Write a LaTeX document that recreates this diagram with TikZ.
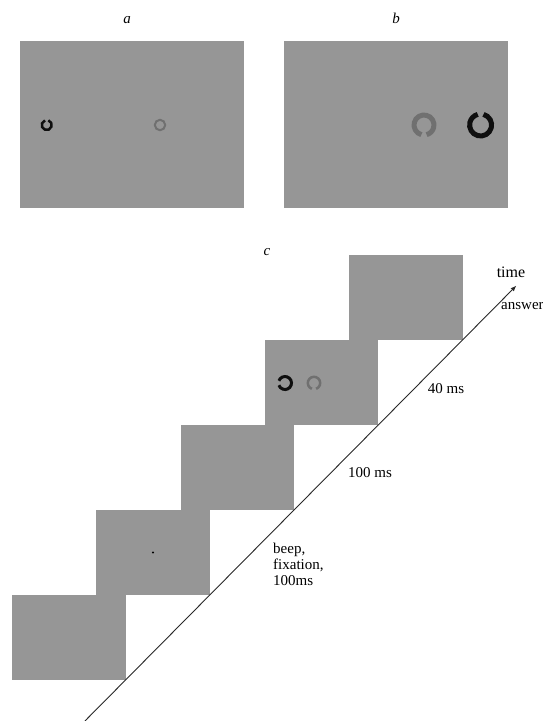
\documentclass[tikz,border=0pt]{standalone}
\usepackage{fontspec}
\setmainfont{Liberation Serif}
\usetikzlibrary{arrows.meta}
\definecolor{scrgray}{RGB}{150,150,150}
\definecolor{ringgray}{RGB}{112,112,112}
\definecolor{ringblack}{RGB}{15,15,15}
\definecolor{axisgray}{RGB}{40,40,40}
\tikzset{
  panel/.style={fill=scrgray, draw=none, inner sep=0pt, outer sep=0pt, minimum width=224pt, minimum height=167pt},
  scr/.style={fill=scrgray, draw=none, inner sep=0pt, outer sep=0pt, minimum width=113.5pt, minimum height=85pt},
  lbl/.style={inner sep=0pt, font=\fontsize{15}{17}\selectfont\itshape},
  txt/.style={inner sep=0pt, font=\fontsize{15}{16}\selectfont},
  axisline/.style={draw=axisgray, line width=0.9pt},
}
\begin{document}
\begin{tikzpicture}[x=1pt, y=-1pt]
\useasboundingbox (0,0) rectangle (543,721);
% panels a and b (y axis points down: 270 = up, 90 = down)
\node[panel] (pa) at (132,124.5) {};
\node[panel] (pb) at (396,124.5) {};
\node[lbl, anchor=base] (la) at (127,23) {a};
\node[lbl, anchor=base] (lb) at (396,23) {b};
% rings in a
\draw[ringblack, line width=2.5pt] (46.7,125) ++(-70:5) arc[start angle=-70, end angle=250, radius=5];
\draw[ringgray, line width=2pt] (160,125) circle[radius=5.2];
% rings in b
\draw[ringgray, line width=5pt] (424,125) ++(105:10) arc[start angle=105, end angle=435, radius=10];
\draw[ringblack, line width=5pt] (480.6,125) ++(-75:11) arc[start angle=-75, end angle=255, radius=11];
% panel c
\node[lbl, anchor=base] (lc) at (267,255) {c};
\node[scr] (s0) at (68.75,637.5) {};
\node[scr] (s1) at (153,552.5) {};
\node[scr] (s2) at (237.25,467.5) {};
\node[scr] (s3) at (321.5,382.5) {};
\node[scr] (s4) at (405.75,297.5) {};
% fixation dot
\fill[black] (s1.center) circle[radius=1.1];
% rings in stimulus screen
\draw[ringblack, line width=3pt] (285,383) ++(200:6.5) arc[start angle=200, end angle=520, radius=6.5];
\draw[ringgray, line width=2.5pt] (314,383) ++(110:6.2) arc[start angle=110, end angle=430, radius=6.2];
% time axis
\coordinate (t0) at (84.9,721);
\coordinate (t1) at (516.5,285.5);
\draw[axisline, -{Latex[length=6pt, width=4.5pt]}] (t0) -- (t1);
\node[txt, anchor=base, font=\fontsize{16}{18}\selectfont] (ltime) at (511,277) {time};
\node[txt, anchor=base west] (lans) at (501,309) {answer};
\node[txt, anchor=base] (l40) at (446,393) {40 ms};
\node[txt, anchor=base] (l100) at (370,477) {100 ms};
\node[txt, anchor=base west, align=left] (lbeep) at (273,585) {beep,\\fixation,\\100ms};
\end{tikzpicture}
\end{document}
